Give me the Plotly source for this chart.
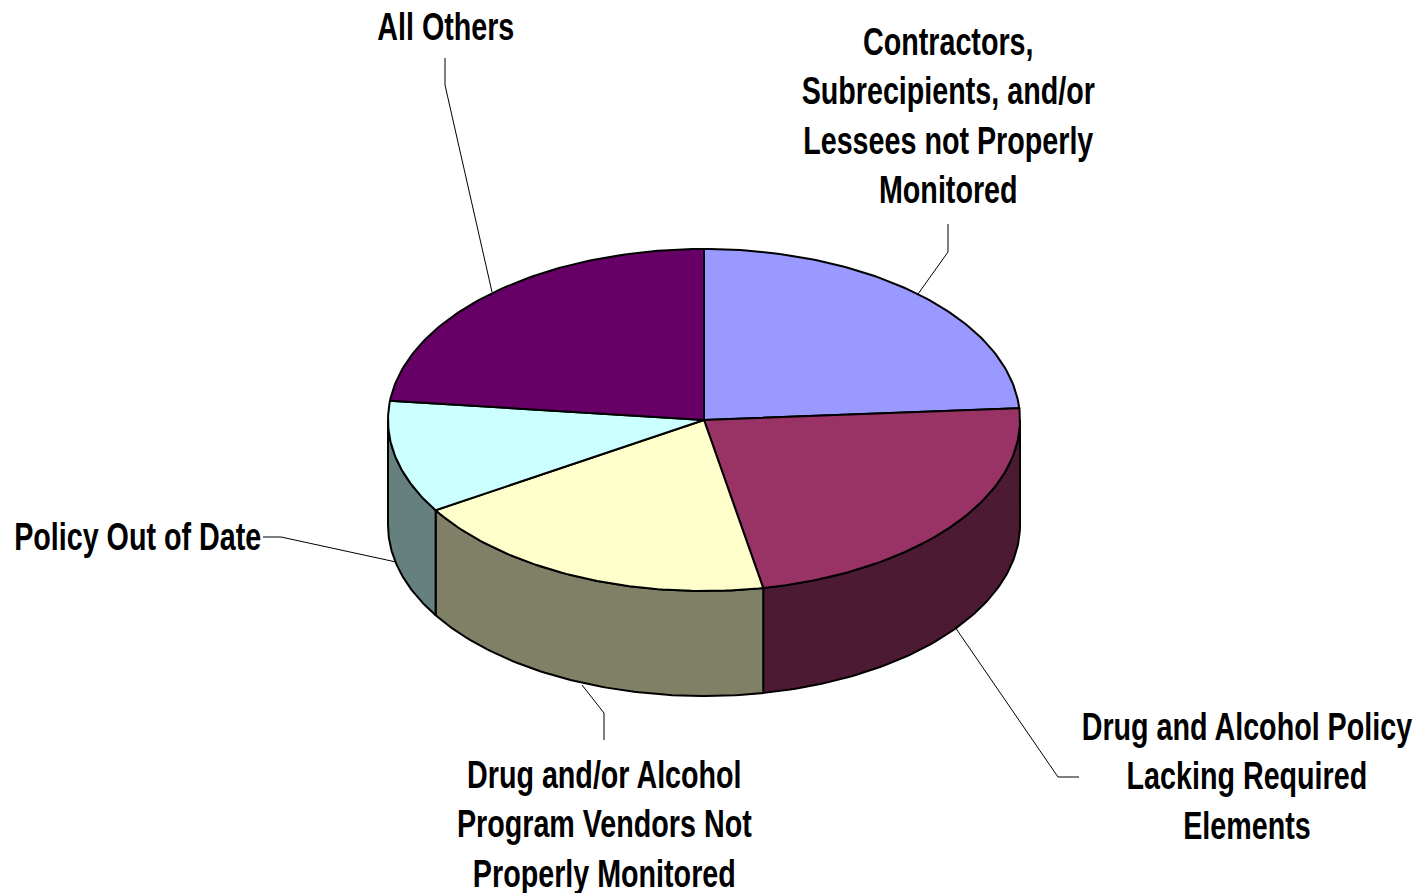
import numpy as np
import plotly.graph_objects as go

# share of findings per slice, clockwise from 12 o'clock
categories = ['Contractors, Subrecipients, and/or Lessees not Properly Monitored',
              'Drug and Alcohol Policy Lacking Required Elements',
              'Drug and/or Alcohol Program Vendors Not Properly Monitored',
              'Policy Out of Date',
              'All Others']
values = [23.9, 23.1, 19.15, 10.65, 23.2]
top_colors = ['#9999FF', '#993366', '#FFFFCC', '#CCFFFF', '#660066']
side_colors = ['#4D4D80', '#4D1A33', '#808066', '#668080', '#330033']

label_text = ['Contractors,<br>Subrecipients, and/or<br>Lessees not Properly<br>Monitored',
              'Drug and Alcohol Policy<br>Lacking Required<br>Elements',
              'Drug and/or Alcohol<br>Program Vendors Not<br>Properly Monitored',
              'Policy Out of Date',
              'All Others']
label_x = [948, 1247, 604, 137, 446]
label_y = [116, 776, 824, 537, 27]
leader_x = [[948, 948, 918], [955, 1058, 1079], [582, 604, 604], [396, 281, 263], [492, 445, 445]]
leader_y = [[224, 252, 294], [627, 777, 777], [685, 713, 740], [562, 537, 537], [292, 85, 58]]

cx, cy, rx, ry, depth = 704, 420, 316, 171, 105
FONT = 'Liberation Sans'
# drop the page margin and squeeze the text, reference is a narrowed Arial Bold
POST = """
document.body.style.margin = '0';
document.documentElement.style.overflow = 'hidden';
document.querySelectorAll('.annotation-text-g text').forEach(function (t) {
  t.style.transformBox = 'fill-box';
  t.style.transformOrigin = 'center';
  t.style.transform = 'scaleX(0.755)';
});
"""


def arc(a, b):
    t = np.radians(np.linspace(a, b, 80))
    return cx + rx * np.sin(t), cy - ry * np.cos(t)


edges = np.concatenate([[0], np.cumsum(values)]) / sum(values) * 360

fig = go.Figure()

# side wall first, only the front half (90-270 deg) can be seen
for i in range(len(values)):
    a, b = max(edges[i], 90), min(edges[i + 1], 270)
    if a >= b:
        continue
    x, y = arc(a, b)
    fig.add_trace(go.Scatter(
        x=np.concatenate([x, x[::-1], x[:1]]),
        y=np.concatenate([y, y[::-1] + depth, y[:1]]),
        mode='lines', fill='toself', fillcolor=side_colors[i],
        line=dict(color='black', width=2), hoverinfo='skip'))

# top face
for i in range(len(values)):
    x, y = arc(edges[i], edges[i + 1])
    fig.add_trace(go.Scatter(
        x=np.concatenate([[cx], x, [cx]]),
        y=np.concatenate([[cy], y, [cy]]),
        mode='lines', fill='toself', fillcolor=top_colors[i],
        line=dict(color='black', width=2), name=categories[i]))

# leader lines
for lx, ly in zip(leader_x, leader_y):
    fig.add_trace(go.Scatter(x=lx, y=ly, mode='lines',
                             line=dict(color='black', width=1), hoverinfo='skip'))

for t, x, y in zip(label_text, label_x, label_y):
    fig.add_annotation(x=x, y=y, text='<b>' + t + '</b>', showarrow=False,
                       align='center', font=dict(family=FONT, size=38, color='black'))

fig.update_layout(
    width=1418, height=893, showlegend=False,
    margin=dict(l=0, r=0, t=0, b=0),
    paper_bgcolor='white', plot_bgcolor='white',
    xaxis=dict(range=[0, 1418], visible=False),
    yaxis=dict(range=[893, 0], visible=False),
)
fig.write_html('out.html', post_script=POST, config={'displayModeBar': False})
